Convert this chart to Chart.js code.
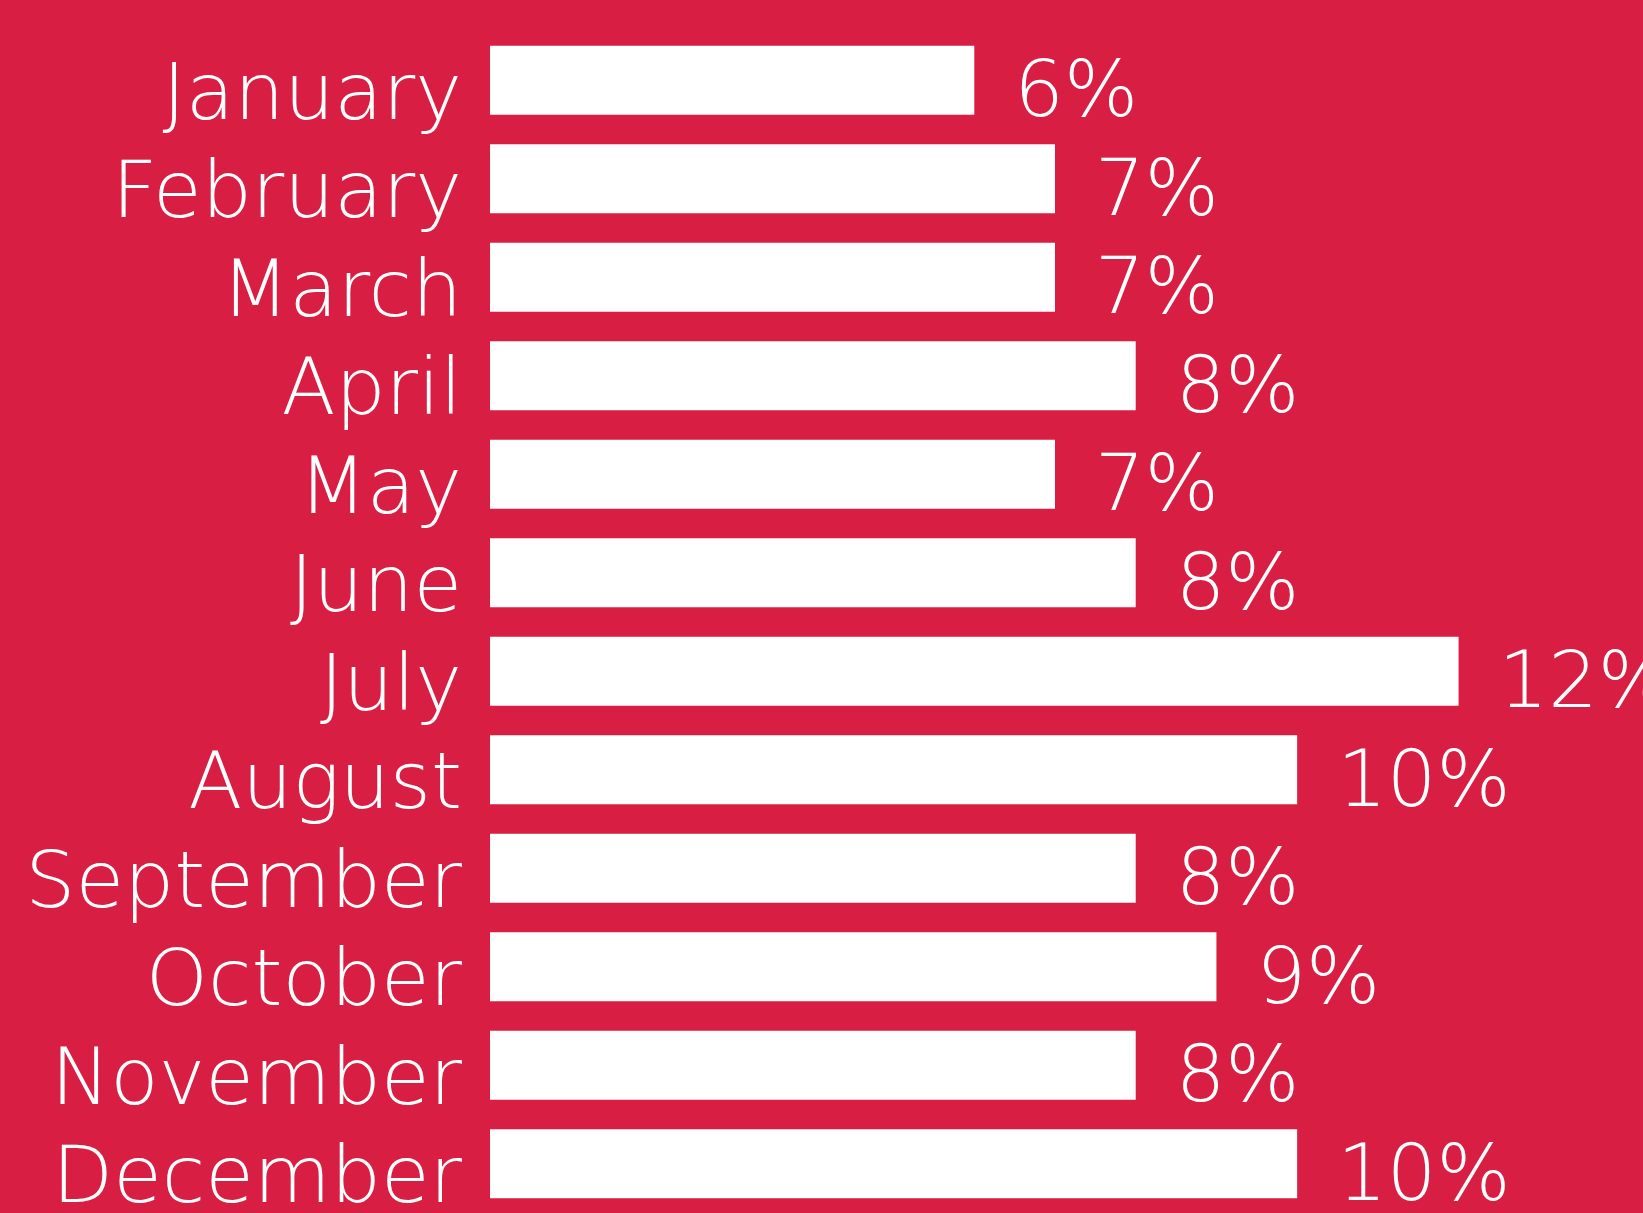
<!DOCTYPE html>
<html>
<head>
<meta charset="utf-8">
<script src="https://cdn.jsdelivr.net/npm/chart.js@4.4.1/dist/chart.umd.min.js"></script>
<style>
  html, body { margin: 0; padding: 0; background: #D91E43; overflow: hidden; }
  #wrap { width: 1643px; height: 1213px; }
</style>
</head>
<body>
<div id="wrap"><canvas id="c" width="1643" height="1213"></canvas></div>
<script>
const months = ["January","February","March","April","May","June","July","August","September","October","November","December"];
const shares = [6, 7, 7, 8, 7, 8, 12, 10, 8, 9, 8, 10];
const valueLabels = ["6%","7%","7%","8%","7%","8%","12%","10%","8%","9%","8%","10%"];

const BG = "#D91E43";
const FONT = "'DejaVu Sans', sans-serif";

const valueLabelPlugin = {
  id: "valueLabels",
  afterDatasetsDraw(chart) {
    const ctx = chart.ctx;
    const meta = chart.getDatasetMeta(0);
    ctx.save();
    ctx.fillStyle = "#ffffff";
    ctx.font = "200 78px " + FONT;
    ctx.textAlign = "left";
    ctx.textBaseline = "alphabetic";
    meta.data.forEach((bar, i) => {
      ctx.fillText(valueLabels[i], bar.x + 40, bar.y + 36);
    });
    ctx.restore();
  }
};

new Chart(document.getElementById("c"), {
  type: "bar",
  data: {
    labels: months,
    datasets: [{
      data: shares,
      backgroundColor: "#ffffff",
      borderWidth: 0,
      categoryPercentage: 1.0,
      barPercentage: 0.70
    }]
  },
  options: {
    indexAxis: "y",
    responsive: false,
    animation: false,
    layout: { padding: { left: 0, right: 23, top: 31, bottom: 0 } },
    plugins: { legend: { display: false }, tooltip: { enabled: false } },
    scales: {
      x: { min: 0, max: 14, display: false },
      y: {
        grid: { display: false, drawTicks: false },
        border: { display: false },
        afterFit(scale) {
          scale.width = 490;
          scale.paddingTop = 0;
          scale.paddingBottom = 0;
        },
        ticks: {
          autoSkip: false,
          color: "#ffffff",
          padding: 28,
          labelOffset: 18,
          font: { family: FONT, size: 79, weight: "200", lineHeight: 1 }
        }
      }
    }
  },
  plugins: [valueLabelPlugin]
});
</script>
</body>
</html>
